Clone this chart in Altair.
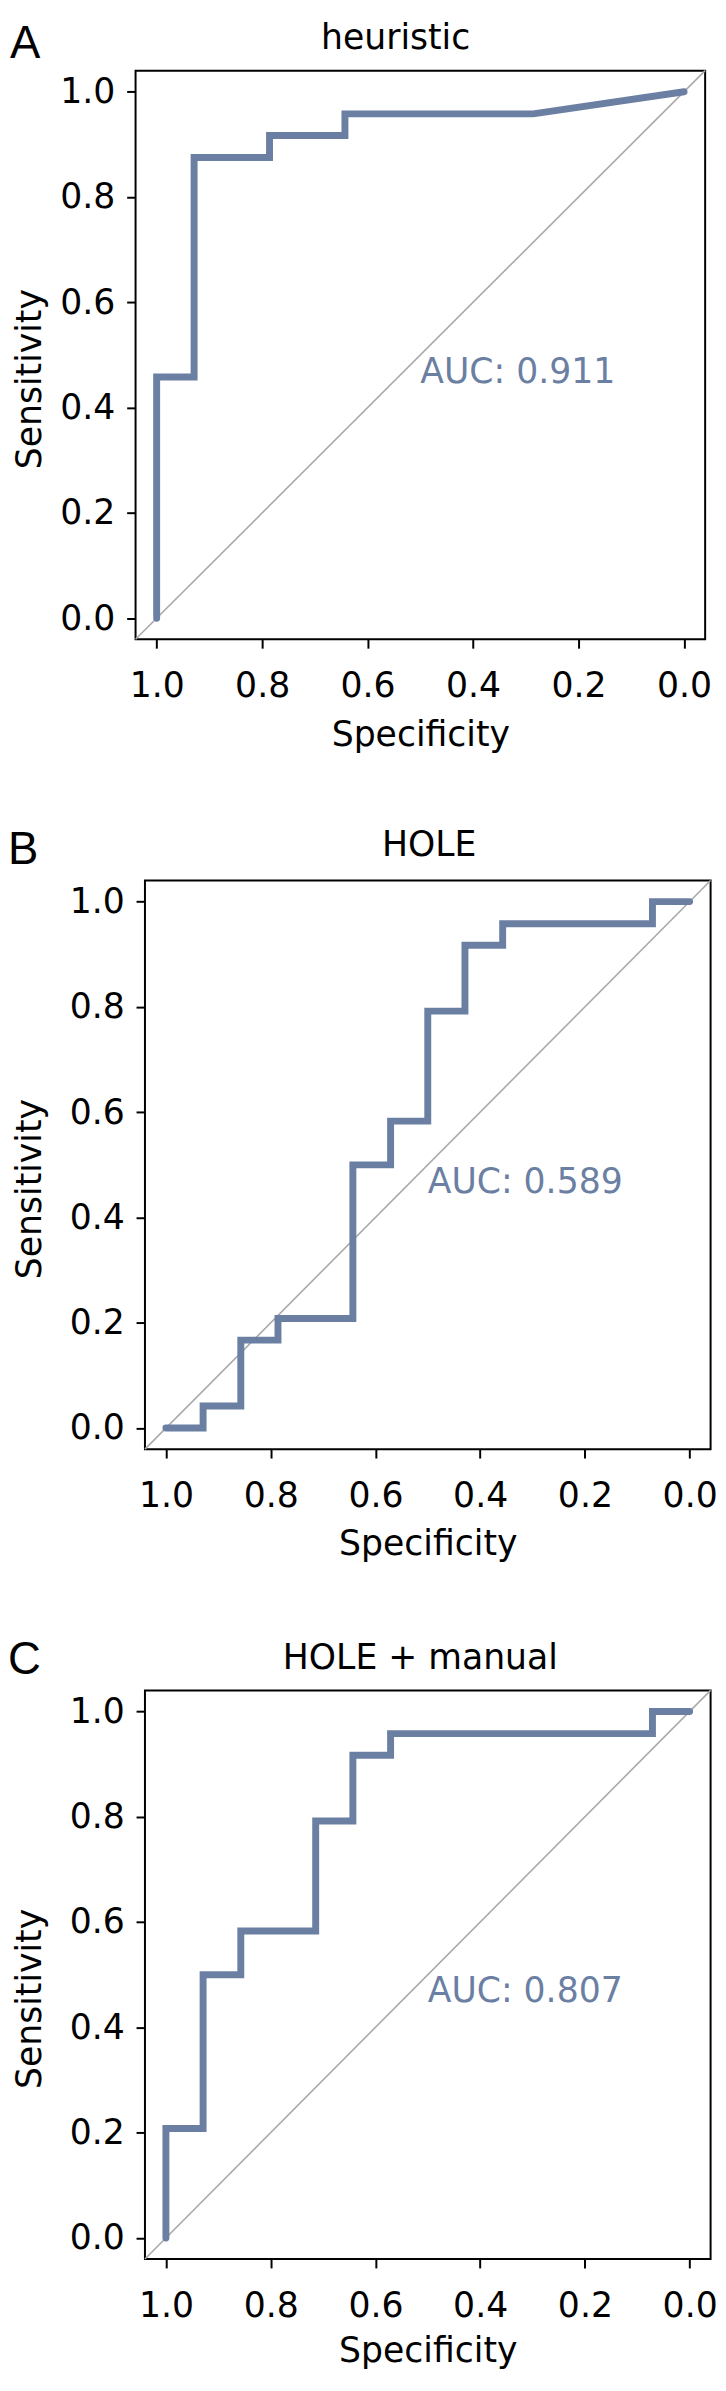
import altair as alt
import pandas as pd

# ---------------- data ----------------
titles = ["heuristic", "HOLE", "HOLE + manual"]
letters = ["A", "B", "C"]
auc_labels = ["AUC: 0.911", "AUC: 0.589", "AUC: 0.807"]

spec_a = [1.0, 1.0, 0.929, 0.929, 0.786, 0.786, 0.643, 0.643, 0.286, 0.0]
sens_a = [0.0, 0.458, 0.458, 0.875, 0.875, 0.917, 0.917, 0.958, 0.958, 1.0]

spec_b = [1.0, 0.929, 0.929, 0.857, 0.857, 0.786, 0.786, 0.643, 0.643, 0.571,
          0.571, 0.5, 0.5, 0.429, 0.429, 0.357, 0.357, 0.071, 0.071, 0.0]
sens_b = [0.0, 0.0, 0.042, 0.042, 0.167, 0.167, 0.208, 0.208, 0.5, 0.5,
          0.583, 0.583, 0.792, 0.792, 0.917, 0.917, 0.958, 0.958, 1.0, 1.0]

spec_c = [1.0, 1.0, 0.929, 0.929, 0.857, 0.857, 0.714, 0.714, 0.643, 0.643,
          0.571, 0.571, 0.071, 0.071, 0.0]
sens_c = [0.0, 0.208, 0.208, 0.5, 0.5, 0.583, 0.583, 0.792, 0.792, 0.917,
          0.917, 0.958, 0.958, 1.0, 1.0]

auc_pos = [0.5, 0.5]
tick_values = [0.0, 0.2, 0.4, 0.6, 0.8, 1.0]
axis_limits = [-0.04, 1.04]

# ---------------- style ----------------
LINE = "#6b7fa3"
FONT = "DejaVu Sans"
FS = 35
HP = 575


def panel(i, spec, sens, shift, w, title_dx, title_y, letter_x, letter_y,
          ytitle_x, xtitle_y):
    roc = pd.DataFrame({"spec": spec, "sens": sens, "order": list(range(len(spec)))})
    xs = alt.Scale(domain=axis_limits, range=[shift + w, shift], nice=False, zero=False)
    ys = alt.Scale(domain=axis_limits, nice=False, zero=False)
    common = dict(values=tick_values, format=".1f", domain=False, grid=False,
                  tickSize=9, tickWidth=2, tickColor="black",
                  labelFont=FONT, labelFontSize=FS, labelColor="black",
                  labelFlush=False, labelOverlap=False,
                  titleFont=FONT, titleFontSize=FS, titleFontWeight="normal",
                  titleColor="black", titleBaseline="alphabetic", titleAlign="center")
    xaxis = alt.Axis(title="Specificity", labelPadding=21,
                     titleX=shift + w / 2, titleY=xtitle_y, **common)
    yaxis = alt.Axis(title="Sensitivity", labelPadding=12, titleAngle=270,
                     titleX=ytitle_x, titleY=HP / 2 + 24, offset=-shift, **common)

    frame = alt.Chart(pd.DataFrame({"f": [0]})).mark_rect(
        filled=False, stroke="black", strokeWidth=2
    ).encode(x=alt.value(shift), x2=alt.value(shift + w), y=alt.value(0), y2=alt.value(HP))

    diag_df = pd.DataFrame({"spec": [axis_limits[1]], "sens": [axis_limits[0]],
                            "spec2": [axis_limits[0]], "sens2": [axis_limits[1]]})
    diag = alt.Chart(diag_df).mark_rule(color="#a9a9a9", strokeWidth=1.6).encode(
        x=alt.X("spec:Q", scale=xs, axis=xaxis),
        y=alt.Y("sens:Q", scale=ys, axis=yaxis),
        x2="spec2:Q", y2="sens2:Q")

    line = alt.Chart(roc).mark_line(
        color=LINE, strokeWidth=7, strokeCap="round", strokeJoin="miter"
    ).encode(x=alt.X("spec:Q", scale=xs, axis=xaxis),
             y=alt.Y("sens:Q", scale=ys, axis=yaxis),
             order="order:Q")

    auc_df = pd.DataFrame({"spec": [auc_pos[0]], "sens": [auc_pos[1]], "label": [auc_labels[i]]})
    auc = alt.Chart(auc_df).mark_text(
        font=FONT, fontSize=FS, color=LINE, align="left", baseline="top"
    ).encode(x=alt.X("spec:Q", scale=xs, axis=xaxis),
             y=alt.Y("sens:Q", scale=ys, axis=yaxis), text="label:N")

    letter = alt.Chart(pd.DataFrame({"t": [letters[i]]})).mark_text(
        font="Liberation Sans", fontSize=46, color="black", align="left", baseline="alphabetic"
    ).encode(x=alt.value(letter_x), y=alt.value(letter_y), text="t:N")

    title = alt.Chart(pd.DataFrame({"t": [titles[i]]})).mark_text(
        font=FONT, fontSize=FS, color="black", align="center", baseline="alphabetic"
    ).encode(x=alt.value(shift + w / 2 + title_dx), y=alt.value(title_y), text="t:N")

    return alt.layer(frame, diag, line, auc, letter, title).properties(
        width=shift + w, height=HP)


pa = panel(0, spec_a, sens_a, 0, 576, -25, -21.5, -127, -12.5, -96.3, 107)
pb = panel(1, spec_b, sens_b, 9.5, 572, 1.5, -24.5, -129, -17, -105.8, 107)
pc = panel(2, spec_c, sens_c, 9.5, 572, -7.5, -22, -129, -17, -105.8, 104)

chart = alt.vconcat(pa, pb, pc, spacing=76).properties(
    padding=0, background="white"
).configure_view(strokeWidth=0)

chart.save("out.html", embed_options={"renderer": "svg", "actions": False})
